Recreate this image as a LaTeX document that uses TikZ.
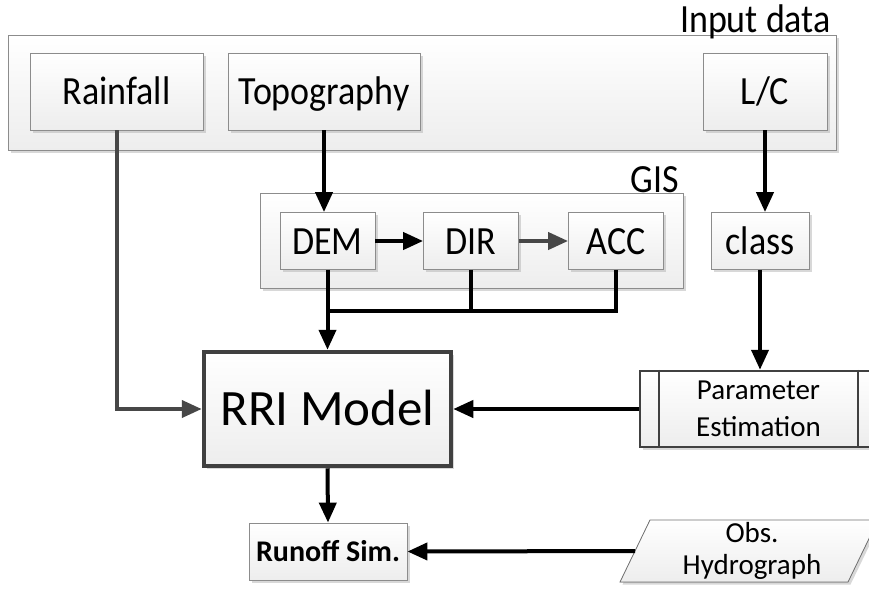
\documentclass[tikz,border=0pt]{standalone}
\usepackage{fontspec}
\setmainfont{Carlito}
\newfontfamily\narrowfont{Carlito}[FakeStretch=0.9]
\usetikzlibrary{arrows.meta,shadows}
\begin{document}
\begin{tikzpicture}[x=1pt,y=-1pt,
  shadowed/.style={drop shadow={shadow xshift=2.5pt,shadow yshift=-2.5pt,fill=black!30,opacity=0.5}},
  box/.style={draw=black!45, line width=0.8pt, top color=white, bottom color=black!7, inner sep=0pt, align=center, shadowed},
  big/.style={font=\narrowfont\fontsize{40}{44}\selectfont, text height=26pt, text depth=0pt},
  mid/.style={font=\fontsize{29}{37}\selectfont},
  arr/.style={line width=4pt, draw=black, -{Triangle[length=20pt,width=17pt]}},
  garr/.style={line width=4pt, draw=black!72, -{Triangle[length=20pt,width=17pt]}},
  conn/.style={line width=4pt, draw=black}
]
\clip (0,0) rectangle (869,590);
\fill[white] (0,0) rectangle (869,590);
% containers
\node[box, minimum width=828pt, minimum height=115pt] (inbox) at (422,92.5) {};
\node[font=\narrowfont\fontsize{40}{44}\selectfont, anchor=base east, inner sep=0pt] (inlabel) at (831,32) {Input data};
\node[box, minimum width=423pt, minimum height=95pt] (gis) at (471.5,240.5) {};
\node[font=\narrowfont\fontsize{40}{44}\selectfont, anchor=base east, inner sep=0pt] (gislabel) at (679,192) {GIS};
% input nodes
\node[box, big, minimum width=173pt, minimum height=77pt] (rain) at (116.5,91.5) {Rainfall};
\node[box, big, minimum width=192pt, minimum height=77pt] (topo) at (324,91.5) {Topography};
\node[box, big, minimum width=124pt, minimum height=77pt] (lc) at (765,91.5) {L/C};
% GIS nodes
\node[box, big, minimum width=95pt, minimum height=57pt] (dem) at (327.5,241) {DEM};
\node[box, big, minimum width=95pt, minimum height=57pt] (dir) at (471,241) {DIR};
\node[box, big, minimum width=95pt, minimum height=57pt] (acc) at (616,241) {ACC};
\node[box, big, minimum width=98pt, minimum height=57pt] (cls) at (760,241) {class};
% model
\node[box, draw=black!75, line width=4.5pt, minimum width=247pt, minimum height=114pt,
      font=\fontsize{51}{55}\selectfont, text height=33pt, text depth=0pt] (rri) at (327.5,409) {RRI Model};
\node[box, draw=black!75, line width=2.5pt, mid, minimum width=237pt, minimum height=76pt] (param) at (758.5,409) {Parameter\\Estimation};
\draw[draw=black!75, line width=2pt] ([xshift=20pt]param.north west) -- ([xshift=20pt]param.south west);
\draw[draw=black!75, line width=2pt] ([xshift=-20pt]param.north east) -- ([xshift=-20pt]param.south east);
\node[box, font=\bfseries\fontsize{30}{34}\selectfont, minimum width=158pt, minimum height=57pt] (runoff) at (328,551.5) {Runoff Sim.};
% observed hydrograph (parallelogram)
\coordinate (obtl) at (650,520);
\coordinate (obtr) at (878,520);
\coordinate (obbr) at (848,582);
\coordinate (obbl) at (620,582);
\filldraw[draw=black!55, line width=0.8pt, top color=white, bottom color=black!7, shadowed] (obtl) -- (obtr) -- (obbr) -- (obbl) -- cycle;
\coordinate (obsw) at (635,551);
\node[align=center, font=\fontsize{29}{32}\selectfont] (obs) at (752,551) {Obs.\\Hydrograph};
% connectors
\draw[garr] (rain.south) |- (rri.west);
\draw[arr] (topo.south) -- (topo.south |- dem.north);
\draw[arr] (lc.south) -- (lc.south |- cls.north);
\draw[arr] (dem.east) -- (dir.west);
\draw[garr] (dir.east) -- (acc.west);
\coordinate (jd) at (327.5,311);
\draw[conn] (acc.south) |- (jd);
\draw[conn] (dir.south) -- (dir.south |- jd);
\draw[arr] (dem.south) -- (rri.north);
\draw[arr] (cls.south) -- (cls.south |- param.north);
\draw[arr] (param.west) -- (rri.east);
\draw[arr] (rri.south) -- (runoff.north);
\draw[arr] (obsw) -- (runoff.east);
\end{tikzpicture}
\end{document}
